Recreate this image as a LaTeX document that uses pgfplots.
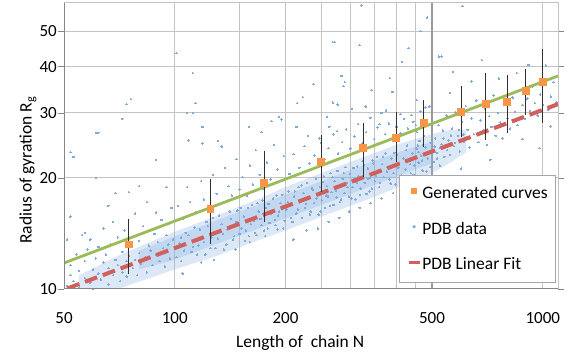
\documentclass[border=0pt]{standalone}
\usepackage{fontspec}
\setmainfont{Carlito}
\usepackage{pgfplots}
\pgfplotsset{compat=1.18}
\definecolor{pdbblue}{HTML}{8DB4E2}
\definecolor{pdbdot}{HTML}{7FAADB}
\definecolor{genorange}{HTML}{F79646}
\definecolor{fitred}{HTML}{D0605B}
\definecolor{fitgreen}{HTML}{9BBB59}
\definecolor{gridgray}{HTML}{C3C3C3}
\definecolor{majgray}{HTML}{9A9A9A}
\definecolor{axisgray}{HTML}{868686}
\definecolor{errgray}{HTML}{303030}
\definecolor{legendgray}{HTML}{A6A6A6}
\begin{document}
\begin{tikzpicture}
\useasboundingbox (-64pt,-69pt) rectangle (506pt,289pt);
\begin{axis}[
  at={(0pt,0pt)}, anchor=south west,
  scale only axis, width=494pt, height=286pt,
  xmode=log, ymode=log,
  xmin=50, xmax=1100, ymin=10, ymax=59.6,
  xtick={50,100,200,500,1000}, xticklabels={50,100,200,500,1000},
  minor xtick={100,150,200,250,300,350,400,450,1000},
  extra x ticks={500}, extra x tick labels={},
  extra x tick style={grid=major, major grid style={draw=majgray, line width=1.2pt}},
  xtick style={draw=none},
  ytick={10,20,30,40,50}, yticklabels={10,20,30,40,50},
  yminorticks=false,
  xmajorgrids=false, xminorgrids=true, ymajorgrids=true,
  major grid style={draw=gridgray, line width=1pt},
  minor grid style={draw=gridgray, line width=1pt},
  tick align=outside, major tick length=6pt,
  ytick style={draw=axisgray, line width=0.8pt},
  axis line style={draw=gridgray, line width=1pt},
  clip mode=individual,
  tick label style={font=\fontsize{17}{20}\selectfont, inner sep=1pt},
  xticklabel style={yshift=-16pt},
  label style={font=\fontsize{17.5}{21}\selectfont},
  xlabel={Length of~ chain N},
  ylabel={Radius of gyration R\textsubscript{g}},
  xlabel style={at={(axis description cs:0.478,-0.189)}, anchor=center},
  ylabel style={at={(axis description cs:-0.073,0.416)}, anchor=center},
  legend cell align=left,
  legend style={at={(0.996,0.399)}, anchor=north east, draw=legendgray, line width=0.8pt,
    fill=white, font=\fontsize{17.5}{21}\selectfont, inner xsep=7pt, inner ysep=10pt,
    row sep=20pt, nodes={inner sep=1pt}},
]
% dense core of the PDB cloud (outer and inner band)
\addplot[forget plot, draw=none, fill=pdbblue, fill opacity=0.3] coordinates {
 (55,10.0) (70,10.0) (100,11.3) (130,12.3) (170,13.6) (200,14.4) (250,15.7) (300,16.8)
 (350,17.8) (400,18.8) (450,19.7) (500,20.6) (560,22.0) (620,23.5)
 (620,27.0) (560,27.0) (500,26.3) (450,25.5) (400,24.6) (350,23.4) (300,22.1) (250,20.6)
 (200,18.9) (170,17.6) (130,15.8) (100,14.3) (70,12.3) (55,10.9)};
\addplot[forget plot, draw=none, fill=pdbblue, fill opacity=0.33] coordinates {
 (80,11.3) (100,12.0) (130,13.25) (170,14.6) (200,15.55) (250,16.9) (300,18.1) (350,19.2)
 (400,20.2) (450,21.1) (500,21.9)
 (500,25.0) (450,24.3) (400,23.4) (350,22.3) (300,21.0) (250,19.6) (200,18.0) (170,17.0)
 (130,15.35) (100,13.9) (80,12.7)};
% PDB data points
\addplot[forget plot, color=pdbdot, only marks, mark=*, mark size=0.75pt, mark options={draw=pdbdot, fill=pdbdot, line width=0pt}] coordinates {
 (51,10.2)(52,10.9)(52,11.6)(53,10.5)(54,12.4)(55,10.1)(55,11.2)(56,14.0)(57,10.7)(57,11.9)
 (58,12.8)(59,10.4)(59,13.6)(60,11.3)(60,10.0)(61,12.1)(62,11.0)(62,13.0)(63,10.6)(64,11.8)
 (64,14.6)(65,12.4)(66,10.3)(66,11.4)(67,13.2)(68,10.9)(68,15.2)(69,12.0)(69,18.2)(70,11.6)
 (70,13.8)(71,10.5)(72,12.6)(72,11.1)(73,14.4)(74,11.9)(74,10.8)(75,12.3)(75,18.3)(76,13.0)
 (77,11.4)(78,12.0)(78,16.0)(79,10.9)(80,12.5)(80,13.5)(81,11.7)(82,14.8)(83,12.2)(84,17.2)
 (84,11.1)(85,13.1)(86,12.7)(87,11.6)(88,14.1)(89,16.1)(89,12.4)(90,13.4)(91,11.9)(92,15.4)
 (93,12.9)(94,11.5)(95,14.0)(96,13.2)(97,12.1)(98,16.6)(99,13.6)
 (52,23.5)(53,22.8)(52,15.7)(61,26.5)(62,26.5)(61,20.0)(72,28.9)(74,31.7)(76,32.7)(89,22.4)
 (57,14.2)(51,13.6)(59,13.6)(80,19.0)(66,16.8)(95,18.9)
 (101,43.6)(112,38.5)(112,30.0)(114,31.9)(108,30.0)(119,27.5)(109,25.3)(119,24.8)(131,25.2)
 (134,24.3)(159,27.5)(172,26.6)(183,28.5)(192,29.3)(195,28.8)
 (102,16.8)(105,15.5)(108,18.9)(110,17.2)(114,16.1)(118,19.6)(120,17.5)(124,16.6)(127,20.4)
 (130,18.1)(133,17.0)(137,21.3)(140,19.0)(143,17.9)(147,22.5)(150,18.6)(153,20.1)(157,17.9)
 (160,21.6)(163,19.2)(166,23.8)(170,20.4)(174,18.7)(178,22.0)(182,19.8)(186,24.6)(190,21.1)
 (194,19.6)(198,22.9)
 (103,13.3)(104,11.9)(107,14.2)(111,12.6)(113,14.7)(116,13.1)(121,12.4)(122,15.2)(126,13.8)
 (129,12.9)(132,15.8)(135,14.1)(138,13.2)(142,15.5)(145,13.9)(148,16.3)(152,14.6)(155,13.5)
 (158,16.6)(161,15.0)(165,14.2)(168,17.1)(171,15.5)(175,14.4)(177,16.6)(181,15.1)(185,17.6)
 (188,14.9)(192,16.2)(196,18.0)(199,15.3)
 (105,11.0)(118,11.8)(128,12.0)(146,12.8)(160,13.4)(176,13.9)(190,14.5)
 (214,27.5)(223,33.1)(215,31.9)(238,35.9)(269,46.7)(272,46.7)(284,37.8)(287,35.5)(269,32.0)
 (277,31.6)(259,29.3)(263,27.5)(276,26.8)(322,58.7)(318,45.8)(303,30.8)(290,36.4)(342,34.6)
 (330,31.2)(384,37.3)(390,34.2)(415,41.3)(465,50.0)(485,54.4)(432,45.0)(375,30.5)(410,29.8)
 (455,32.5)(480,31.0)(250,24.9)(230,26.0)(360,28.0)(445,28.4)
 (205,20.5)(210,23.2)(218,21.3)(225,24.4)(232,21.9)(240,23.0)(247,25.6)(255,22.5)(262,24.1)
 (270,26.2)(278,23.3)(285,25.0)(292,27.1)(300,24.0)(308,25.9)(315,28.0)(323,24.8)(331,26.6)
 (340,29.1)(348,25.5)(356,27.4)(365,30.0)(373,26.3)(382,28.1)(392,25.6)(400,27.5)(410,26.4)
 (420,28.9)(430,27.2)(440,29.6)(452,27.8)(465,30.3)(478,28.5)(492,31.2)
 (203,17.2)(207,15.6)(212,18.4)(216,16.4)(221,19.1)(227,17.0)(233,15.9)(236,18.8)(243,17.6)
 (249,16.2)(253,19.5)(258,17.9)(264,16.8)(268,20.1)(274,18.5)(281,17.2)(288,20.6)(295,18.9)
 (302,17.6)(306,21.3)(312,19.4)(319,18.0)(327,21.7)(334,19.9)(338,18.4)(345,22.3)(352,20.3)
 (359,18.9)(368,22.8)(377,20.8)(386,19.3)(395,23.4)(405,21.3)(415,19.9)(425,23.8)(436,21.8)
 (446,20.4)(458,24.5)(470,22.3)(483,20.8)(496,24.9)
 (210,13.6)(228,14.4)(245,14.6)(262,15.2)(280,15.6)(298,16.2)(318,16.6)(340,17.1)(365,17.6)
 (392,18.2)(420,18.8)(450,19.2)(485,19.8)
 (455,26.6)(462,25.2)(468,27.4)(472,24.6)(476,26.0)(460,23.5)(470,21.0)
 (505,22.1)(510,25.6)(515,23.4)(520,27.8)(525,21.6)(530,24.7)(535,26.9)(540,22.8)(548,29.5)
 (555,25.3)(560,23.1)(567,27.2)(573,24.4)(580,30.1)(588,26.0)(595,23.6)(603,28.4)(610,25.1)
 (618,31.3)(625,27.0)(633,24.2)(640,29.0)(650,26.3)(660,32.4)(668,25.0)(677,28.6)(688,26.9)
 (697,30.8)(705,24.6)(715,29.4)(725,27.5)(735,33.5)(745,26.0)(755,30.0)(766,28.3)(778,25.6)
 (790,31.6)(802,29.0)(815,27.2)(828,33.0)(840,30.2)(853,27.8)(867,34.6)(880,31.5)(894,28.9)
 (908,32.8)(922,30.4)(937,35.4)(952,31.9)(968,29.5)(984,33.7)(1000,31.6)(1018,35.8)(1035,30.6)
 (1052,33.2)(1070,36.4)(1088,32.0)
 (522,42.7)(531,42.7)(570,38.8)(605,58.4)(683,41.7)(915,40.5)(1020,40.3)(980,24.1)(640,36.5)
 (760,37.2)(850,38.5)(560,34.0)(720,22.4)(880,25.5)(1050,27.6)(600,21.2)
 (101,12.2)(104,13.8)(106,12.7)(109,14.0)(112,13.0)(115,12.4)(117,14.5)(120,13.4)(123,14.8)
 (125,12.9)(127,15.6)(131,13.7)(134,15.0)(136,12.8)(139,14.5)(141,16.2)(144,13.6)(147,15.2)
 (150,14.1)(151,16.6)(154,15.7)(156,14.4)(159,13.9)(162,16.9)(164,15.3)(167,14.0)(169,16.2)
 (172,14.9)(173,17.4)(176,15.9)(179,14.6)(180,17.0)(183,16.0)(187,15.4)(189,17.9)(191,15.8)
 (194,17.1)(197,14.6)(201,16.4)(204,18.4)(206,17.0)(209,15.2)(211,17.8)(214,16.0)(217,18.9)
 (219,17.3)(222,15.6)(224,18.2)(226,16.6)(229,19.4)(231,17.7)(234,16.2)(237,18.6)(239,17.1)
 (242,19.9)(244,18.1)(246,15.9)(248,18.9)(251,17.4)(254,20.2)(256,16.6)(259,19.0)(261,17.8)
 (265,20.6)(267,18.3)(270,16.9)(272,19.6)(275,17.7)(277,20.9)(279,18.9)(283,17.5)(286,19.9)
 (289,18.2)(291,21.4)(294,19.4)(297,17.8)(299,20.5)(304,18.9)(307,19.9)(310,17.5)(313,21.5)
 (316,20.2)(320,18.7)(324,22.2)(328,19.4)(332,18.1)(335,21.2)(339,20.0)(343,18.7)(346,21.9)
 (350,19.6)(354,22.8)(357,21.0)(361,19.4)(366,21.8)(370,20.1)(374,23.3)(379,21.4)(383,19.8)
 (388,22.6)(393,20.6)(398,19.2)(402,23.1)(407,21.9)(412,20.3)(418,22.6)(423,21.1)(428,24.5)
 (433,22.4)(438,20.6)(443,23.3)(448,21.6)(454,24.0)(460,22.0)(466,23.0)(473,20.9)(480,24.2)
 (487,22.6)(494,21.4)(500,23.5)(508,24.3)(516,22.6)(526,24.2)(538,25.6)(550,23.8)(563,26.1)
 (578,24.9)(592,27.0)(608,26.2)(630,25.6)};
% PDB linear fit
\addplot[forget plot, fitred, line width=4pt, dash pattern=on 13pt off 6pt] coordinates {(51,10.03) (1100,31.7)};
% generated-curve fit
\addplot[forget plot, fitgreen, line width=2.8pt] coordinates {(50,11.76) (1100,37.8)};
% error bars of the generated curves
\addplot[forget plot, only marks, mark=none, error bars/.cd, y dir=both, y explicit,
  error bar style={draw=errgray, line width=1.1pt},
  error mark options={draw=errgray, line width=1.1pt, mark size=2pt}] coordinates {
 (75,13.2) += (0,2.1) -= (0,2.1)
 (125,16.5) += (0,3.1) -= (0,3.1)
 (175,19.4) += (0,4.0) -= (0,4.0)
 (250,22.1) += (0,3.7) -= (0,3.6)
 (325,24.1) += (0,3.7) -= (0,3.7)
 (400,25.7) += (0,4.1) -= (0,3.3)
 (475,28.2) += (0,3.9) -= (0,3.7)
 (600,30.2) += (0,4.9) -= (0,4.0)
 (700,31.8) += (0,6.2) -= (0,6.2)
 (800,32.1) += (0,5.4) -= (0,5.3)
 (900,34.4) += (0,4.6) -= (0,4.4)
 (1000,36.4) += (0,7.8) -= (0,7.8)};
% generated curves
\addplot[forget plot, color=genorange, only marks, mark=square*, mark size=3.4pt, mark options={draw=genorange, fill=genorange, line width=0pt}] coordinates {
 (75,13.2)(125,16.5)(175,19.4)(250,22.1)(325,24.1)(400,25.7)(475,28.2)(600,30.2)(700,31.8)(800,32.1)(900,34.4)(1000,36.4)};
% axis lines
\draw[axisgray, line width=1pt] (rel axis cs:0,1) -- (rel axis cs:0,0) -- (rel axis cs:1,0);
% legend
\addlegendimage{legend image code/.code={\path (0pt,0pt) (11pt,0pt); \fill[genorange] (3pt,-0.5pt) rectangle (8pt,4.5pt);}}
\addlegendentry{Generated curves}
\addlegendimage{legend image code/.code={\path (0pt,0pt) (11pt,0pt); \fill[pdbdot] (5.5pt,2pt) circle (1.2pt);}}
\addlegendentry{PDB data}
\addlegendimage{legend image code/.code={\draw[fitred, line width=3.5pt] (0pt,2pt) -- (11pt,2pt);}}
\addlegendentry{PDB Linear Fit}
\end{axis}
\end{tikzpicture}
\end{document}
